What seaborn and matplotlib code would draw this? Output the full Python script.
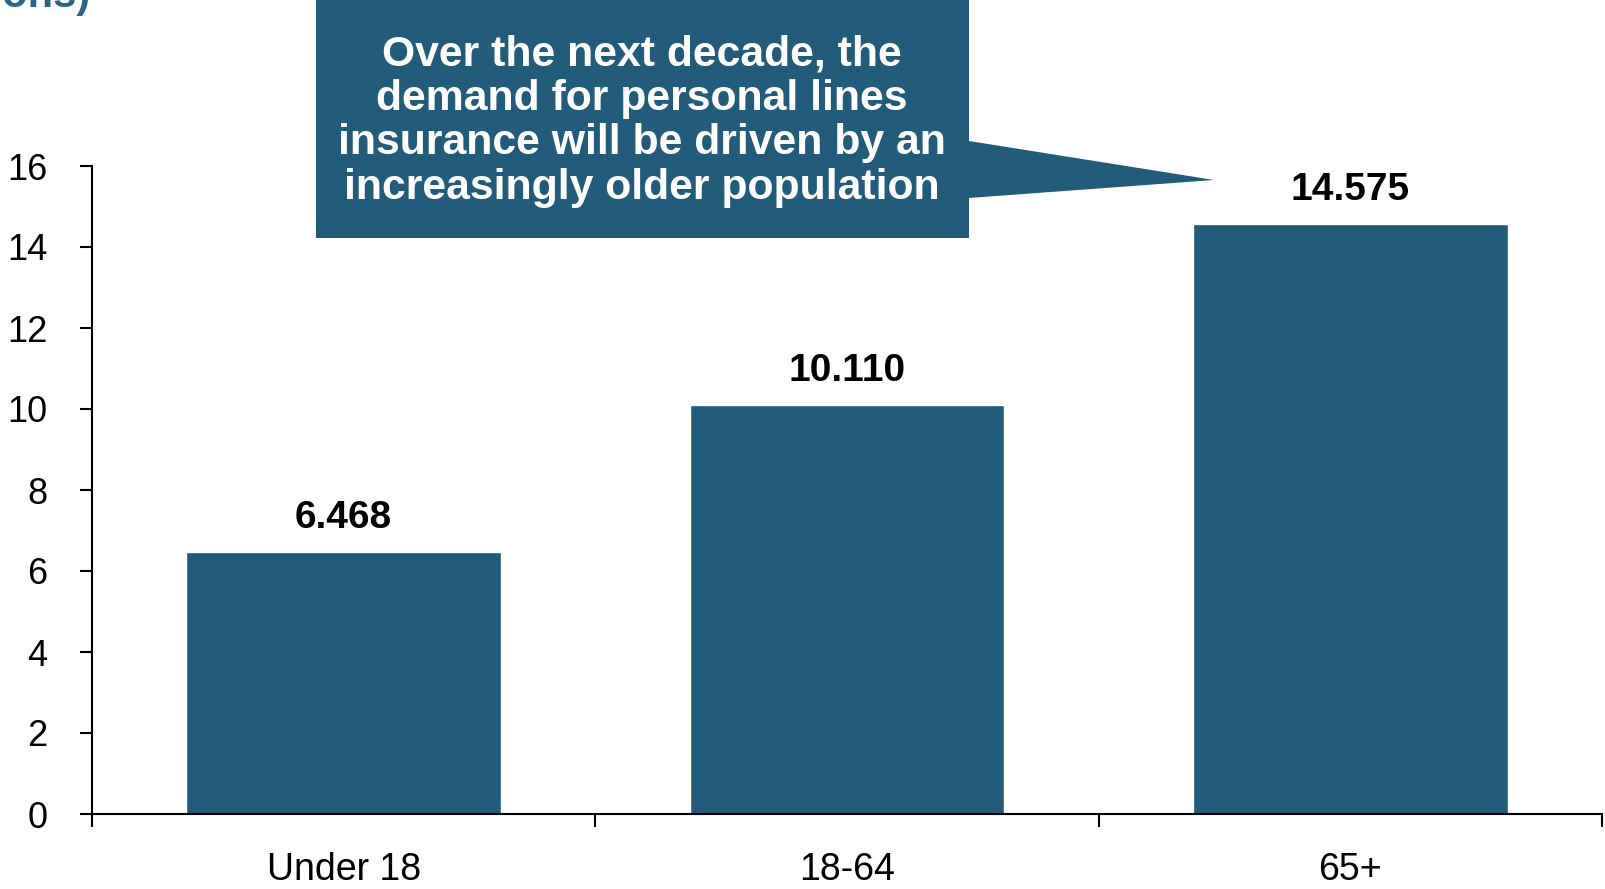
import matplotlib
matplotlib.use('Agg')
import matplotlib.pyplot as plt
import seaborn as sns
from matplotlib.patches import Polygon

# data
age_groups = ['Under 18', '18-64', '65+']
growth = [6.468, 10.110, 14.575]
value_labels = ['6.468', '10.110', '14.575']
y_ticks = [0, 2, 4, 6, 8, 10, 12, 14, 16]
callout_text = ('Over the next decade, the\n'
                'demand for personal lines\n'
                'insurance will be driven by an\n'
                'increasingly older population')
title_text = 'Population Growth (Millions)'

bar_color = '#235B7A'
title_color = '#2A6689'

sns.set_theme(style='ticks')
plt.rcParams['font.family'] = ['Liberation Sans', 'DejaVu Sans']

W, H = 1606, 889
fig = plt.figure(figsize=(W / 100, H / 100), dpi=100)
ax = fig.add_axes([92 / W, 1 - 814 / H, (1602 - 92) / W, (814 - 166) / H])

sns.barplot(x=age_groups, y=growth, color=bar_color, saturation=1,
            width=0.625, ax=ax)

ax.set_ylim(0, 16)
ax.set_xlim(-0.5, 2.5)
ax.set_yticks(y_ticks)
ax.set_xlabel('')
ax.set_ylabel('')

# value labels above the bars
for i, (v, lab) in enumerate(zip(growth, value_labels)):
    ax.annotate(lab, (i, v), xytext=(0, 17), textcoords='offset points',
                ha='center', va='baseline', fontsize=28, fontweight='bold',
                color='black')

# ticks: labels at category centres, tick marks at boundaries
ax.tick_params(axis='x', which='major', length=0, pad=27, labelsize=27,
               colors='black')
ax.set_xticks([-0.5, 0.5, 1.5, 2.5], minor=True)
ax.tick_params(axis='x', which='minor', length=9.5, width=1.5,
               direction='out', color='black')
ax.tick_params(axis='y', length=9, width=1.5, direction='out', pad=23,
               labelsize=26, colors='black')

sns.despine(ax=ax, top=True, right=True)
for side in ['left', 'bottom']:
    ax.spines[side].set_color('black')
    ax.spines[side].set_linewidth(1.5)


def fx(px):
    return px / W


def fy(py):
    return 1 - py / H


# callout box with pointer toward the 65+ bar
pts = [(316, -20), (969, -20), (969, 141), (1214, 180), (969, 198),
       (969, 238), (316, 238)]
callout = Polygon([(fx(x), fy(y)) for x, y in pts], closed=True,
                  facecolor=bar_color, edgecolor='none',
                  transform=fig.transFigure)
fig.patches.append(callout)
fig.text(fx(642), fy(121), callout_text, ha='center', va='center',
         fontsize=30.8, fontweight='bold', color='white', linespacing=1.15)

# title cut off at the top edge of the slide
fig.text(fx(90), fy(7), title_text, ha='right', va='baseline',
         fontsize=30, fontweight='bold', color=title_color)

fig.savefig('out.png', dpi=100, facecolor='white')
